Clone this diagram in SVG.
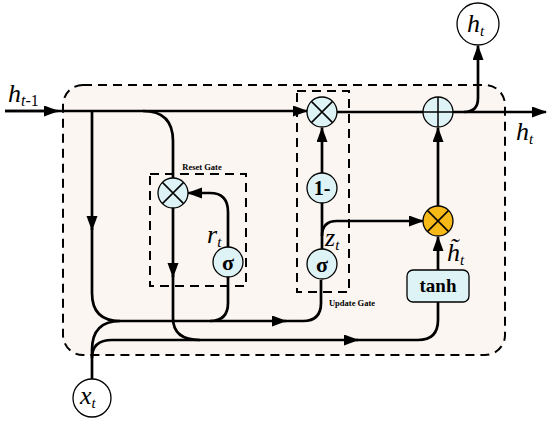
<svg xmlns="http://www.w3.org/2000/svg" width="550" height="422" viewBox="0 0 550 422">
<defs>
<marker id="ah" markerWidth="16" markerHeight="12" refX="14" refY="5.5" orient="auto" markerUnits="userSpaceOnUse">
<path d="M0,0 L15,5.5 L0,11 z" fill="#000"/>
</marker>
<style>
.ln{fill:none;stroke:#000;stroke-width:2.7}
.arr{fill:none;stroke:#000;stroke-width:2.7;marker-end:url(#ah)}
.dash{fill:none;stroke:#000;stroke-width:2;stroke-dasharray:9 6}
.op{fill:#ddf3f6;stroke:#000;stroke-width:1.3}
.sym{stroke:#000;stroke-width:1.5}
.it{font-family:"Liberation Serif",serif;font-style:italic;fill:#000}
.bd{font-family:"Liberation Serif",serif;font-weight:bold;fill:#000;text-anchor:middle}
.gl{font-family:"Liberation Serif",serif;font-weight:bold;font-size:8.5px;fill:#000;text-anchor:middle}
</style>
</defs>
<rect width="550" height="422" fill="#fff"/>
<g id="cell">
<rect x="63" y="85" width="442" height="270" rx="20" fill="#fcf6f2"/>
<rect x="63" y="85" width="442" height="270" rx="20" class="dash"/>
</g>
<g id="reset-gate">
<rect x="150" y="174" width="96" height="112" class="dash"/>
<text x="202" y="170" class="gl">Reset Gate</text>
</g>
<g id="update-gate">
<rect x="297" y="91" width="52" height="201" class="dash"/>
<text x="352" y="306" class="gl">Update Gate</text>
</g>
<g id="connectors">
<path d="M5,111 H58" class="arr"/>
<path d="M5,111 H307" class="arr"/>
<path d="M92,111 V230" class="arr"/>
<path d="M92,228 V293 Q92,321 120,321" class="ln"/>
<path d="M143,111 Q173,111 173,141 V178" class="ln"/>
<path d="M228,248 V212 Q228,193 210,193 H188" class="arr"/>
<path d="M173,208 V277" class="arr"/>
<path d="M173,275 V318 Q173,340 200,340" class="ln"/>
<path d="M228,276 V303 Q228,321 210,321" class="ln"/>
<path d="M92,379 V350 Q92,321 120,321" class="ln"/>
<path d="M92,358 Q92,340 112,340" class="ln"/>
<path d="M120,321 H286" class="arr"/>
<path d="M284,321 H303 Q321,321 321,303 V280" class="ln"/>
<path d="M112,340 H358" class="arr"/>
<path d="M356,340 H418 Q438,340 438,320 V302" class="ln"/>
<path d="M438,270 V237" class="arr"/>
<path d="M322,250 V203" class="ln"/>
<path d="M322,173 V128" class="arr"/>
<path d="M322,236 Q322,221 337,221 H423" class="arr"/>
<path d="M438,206 V128" class="arr"/>
<path d="M337,112 H546" class="arr"/>
<path d="M464,112 Q478,112 478,98 V46" class="arr"/>
</g>
<g id="reset-mult">
<circle cx="173" cy="193" r="15" class="op"/>
<path d="M162.4,182.4 L183.6,203.6 M183.6,182.4 L162.4,203.6" class="sym"/>
</g>
<g id="reset-sigma">
<circle cx="228" cy="262" r="15" class="op"/>
<text x="228" y="270" class="bd" font-size="22">σ</text>
</g>
<g id="update-mult">
<circle cx="322" cy="112" r="15" class="op"/>
<path d="M311.4,101.4 L332.6,122.6 M332.6,101.4 L311.4,122.6" class="sym"/>
</g>
<g id="one-minus">
<circle cx="322" cy="188" r="15" class="op"/>
<text x="322" y="195" class="bd" font-size="20">1-</text>
</g>
<g id="update-sigma">
<circle cx="322" cy="264" r="15" class="op"/>
<text x="322" y="272" class="bd" font-size="22">σ</text>
</g>
<g id="cand-mult">
<circle cx="438" cy="221" r="15" fill="#f6b917" stroke="#000" stroke-width="1.3"/>
<path d="M427.4,210.4 L448.6,231.6 M448.6,210.4 L427.4,231.6" class="sym"/>
</g>
<g id="tanh">
<rect x="407" y="270" width="62" height="32" rx="6" class="op"/>
<text x="438" y="292" class="bd" font-size="19">tanh</text>
</g>
<g id="add">
<circle cx="438" cy="112" r="15" class="op"/>
<path d="M423,112 H453 M438,97 V127" class="sym"/>
</g>
<g id="ht-out">
<circle cx="478" cy="24" r="21" fill="#fff" stroke="#000" stroke-width="1.3"/>
<text x="467" y="32" class="it" font-size="26">h<tspan font-size="15" dy="4">t</tspan></text>
</g>
<g id="xt-in">
<circle cx="92" cy="398" r="19" fill="#fff" stroke="#000" stroke-width="1.3"/>
<text x="80" y="404" class="it" font-size="26">x<tspan font-size="15" dy="4">t</tspan></text>
</g>
<g id="labels">
<text x="8" y="102" class="it" font-size="26">h<tspan font-size="16" dy="4">t</tspan><tspan font-size="16" font-style="normal">-1</tspan></text>
<text x="516" y="140" class="it" font-size="26">h<tspan font-size="15" dy="4">t</tspan></text>
<text x="207" y="243" class="it" font-size="26">r<tspan font-size="15" dy="4">t</tspan></text>
<text x="325" y="246" class="it" font-size="26">z<tspan font-size="15" dy="4">t</tspan></text>
<text x="447" y="261" class="it" font-size="26">h̃<tspan font-size="15" dy="4">t</tspan></text>
</g>
</svg>
